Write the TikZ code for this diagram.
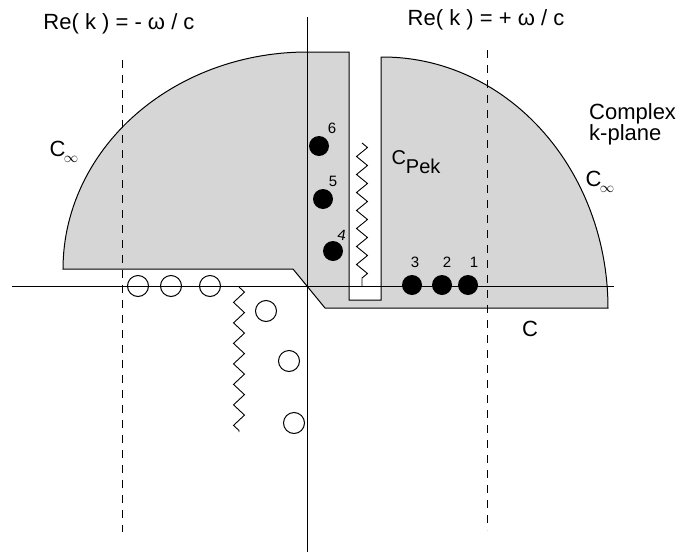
\documentclass[tikz,border=0pt]{standalone}
\usepackage{fontspec}
\setmainfont{Liberation Sans}
\usetikzlibrary{decorations.pathmorphing}
\begin{document}
\begin{tikzpicture}[x=1pt,y=-1pt,
  region/.style={fill=gray!32,draw=black,line width=1pt},
  axis/.style={draw=black,line width=0.9pt},
  guide/.style={draw=black,line width=0.9pt,dash pattern=on 8pt off 7pt},
  wiggle/.style={draw=black,line width=0.9pt,decorate,decoration={zigzag,segment length=#1,amplitude=5.5pt}},
  pole/.style={circle,fill=black,inner sep=0pt,minimum size=20pt},
  zero/.style={circle,draw=black,line width=1pt,inner sep=0pt,minimum width=20pt,minimum height=21pt},
  num/.style={font=\fontsize{15}{17}\selectfont,inner sep=0pt},
  lbl/.style={font=\fontsize{22}{25}\selectfont,inner sep=0pt}]
\useasboundingbox (0,0) rectangle (686,552);
% shaded region bounded by the contour
\path[region]
  (293,269) -- (63,269)
  -- plot[domain=0:90,samples=60,variable=\t] ({307-244*cos(\t)},{269-217*sin(\t)})
  -- (349,52) -- (349,300) -- (381,300) -- (381,57)
  -- plot[domain=90:0,samples=60,variable=\t] ({383+225*cos(\t)},{308-251*sin(\t)})
  -- (325,308) -- cycle;
% axes
\coordinate (xl) at (12,286);
\coordinate (xr) at (614,286);
\coordinate (yt) at (307,17);
\coordinate (yb) at (307,552);
\draw[axis] (xl) -- (xr);
\draw[axis] (yt) -- (yb);
% dashed lines Re(k) = -w/c and +w/c
\coordinate (dlt) at (122,60);
\coordinate (dlb) at (122,532);
\coordinate (drt) at (487,50);
\coordinate (drb) at (487,530);
\draw[guide] (dlt) -- (dlb);
\draw[guide] (drt) -- (drb);
% branch cuts
\coordinate (z1t) at (362,143);
\coordinate (z1b) at (362,286);
\coordinate (z2t) at (239,287);
\coordinate (z2b) at (239,432);
\draw[wiggle=18pt] (z1t) -- (z1b);
\draw[wiggle=20.5pt] (z2t) -- (z2b);
% poles
\node[pole] (p1) at (468,285) {};
\node[pole] (p2) at (442,285) {};
\node[pole] (p3) at (412,285) {};
\node[pole] (p4) at (333,251) {};
\node[pole] (p5) at (323,199) {};
\node[pole] (p6) at (319,146) {};
\node[num] (n1) at (474,262) {1};
\node[num] (n2) at (447,262) {2};
\node[num] (n3) at (415,262) {3};
\node[num,rotate=-10] (n4) at (342,235) {4};
\node[num] (n5) at (333,181) {5};
\node[num] (n6) at (332,128) {6};
% zeros
\node[zero] (o1) at (138,286) {};
\node[zero] (o2) at (171,286) {};
\node[zero] (o3) at (210,286) {};
\node[zero] (o4) at (266,311) {};
\node[zero] (o5) at (289,361) {};
\node[zero] (o6) at (294,423) {};
% labels
\node[lbl] (tl) at (119,24) {Re( k ) = - ω / c};
\node[lbl] (tr) at (486,20) {Re( k ) = + ω / c};
\node[lbl,align=left,anchor=west] (cp) at (589,124) {Complex\\[-4pt]k-plane};
\node[lbl] (cinfr) at (600,182) {C\kern-1.5pt\raisebox{-6pt}{\fontsize{14}{14}\selectfont$\infty$}};
\node[lbl] (cinfl) at (64,152) {C\kern-1.5pt\raisebox{-6pt}{\fontsize{14}{14}\selectfont$\infty$}};
\node[lbl,font=\fontsize{20}{22}\selectfont] (cpek) at (416,162) {C\raisebox{-9pt}{Pek}};
\node[lbl] (cc) at (530,329) {C};
\end{tikzpicture}
\end{document}
